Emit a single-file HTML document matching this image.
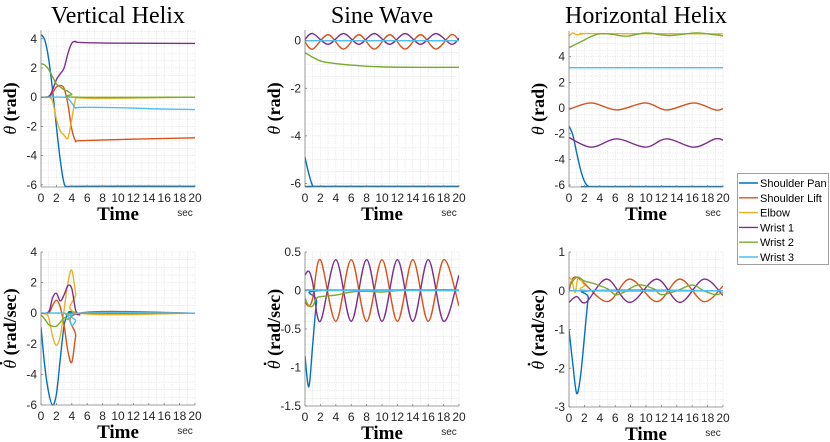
<!DOCTYPE html>
<html><head><meta charset="utf-8">
<style>
html,body{margin:0;padding:0;background:#fff;}
svg{display:block;font-family:"Liberation Sans",sans-serif;}
.ttl{font-family:"Liberation Serif","DejaVu Serif","Noto Serif CJK SC",serif;font-size:24px;fill:#000;}
.xl{font-family:"Liberation Serif",serif;font-size:19px;font-weight:bold;fill:#000;}
.yl{font-family:"Liberation Serif",serif;font-size:18px;font-weight:bold;fill:#000;}
.tk{font-size:12px;fill:#262626;}
.sec{font-size:10px;fill:#262626;}
.lg{font-size:11px;fill:#000;}
</style></head>
<body>
<svg id="fig" width="830" height="442" viewBox="0 0 830 442" xmlns="http://www.w3.org/2000/svg">
<text class="ttl" x="118" y="23" text-anchor="middle">Vertical Helix</text>
<text class="ttl" x="382" y="23" text-anchor="middle">Sine Wave</text>
<text class="ttl" x="646" y="23" text-anchor="middle">Horizontal Helix</text>
<g id="legend">
<rect x="737.5" y="173.5" width="91" height="91" fill="#fff" stroke="#a0a0a0" stroke-width="1"/>
</g>
</svg>
<script>
const seriesNames = ["Shoulder Pan","Shoulder Lift","Elbow","Wrist 1","Wrist 2","Wrist 3"];
const seriesColors = ["#0072BD","#D95319","#EDB120","#7E2F8E","#77AC30","#4DBEEE"];

// Vertical helix - theta
const vhPosPanT=[0,0.5,1,1.5,2,2.5,3,3.5,5,20], vhPosPanV=[4.3,3.9,2.6,0.5,-2,-4.3,-5.9,-6.12,-6.1,-6.1];
const vhPosLiftT=[0,1,1.5,2,2.5,3,3.5,4,4.5,5,10,20], vhPosLiftV=[0,0,0.3,0.7,0.8,0.6,-0.5,-2.2,-3.0,-2.98,-2.9,-2.78];
const vhPosElbowT=[0,1,1.5,2,2.5,3,3.5,4,4.5,5,8,20], vhPosElbowV=[0,0,-0.3,-1.5,-2.3,-2.6,-2.8,-1.5,-0.1,-0.05,-0.08,0];
const vhPosW1T=[0,1,1.5,2,2.5,3,3.5,4,4.5,5,10,20], vhPosW1V=[0,0.05,0.5,1.2,1.6,2.0,3.0,3.7,3.82,3.75,3.7,3.68];
const vhPosW2T=[0,0.5,1,1.5,2,2.5,3,3.5,4,4.5,20], vhPosW2V=[2.3,2.2,1.9,1.4,0.9,0.7,0.5,0.4,0.2,0,0];
const vhPosW3T=[0,3,3.5,4,4.5,5,10,15,20], vhPosW3V=[0,0,-0.1,-0.4,-0.75,-0.7,-0.72,-0.8,-0.85];
// Vertical helix - theta dot
const vhVelPanT=[0,0.5,1,1.5,2,2.5,3,3.5,4,5,20], vhVelPanV=[-0.9,-3.5,-5.2,-6.0,-5.3,-3.0,-0.8,0,0.1,0,0];
const vhVelLiftT=[0,1,1.5,2,2.5,3,3.5,4,4.5,5,20], vhVelLiftV=[0,0,0.5,0.85,0.4,-0.8,-2.5,-3.2,-1.5,0,0];
const vhVelElbowT=[0,0.5,1,1.5,2,2.5,3,3.5,4,4.5,5,20], vhVelElbowV=[0,0,-0.3,-1.5,-2.1,-1.5,0.2,2.0,2.8,1.3,0,0];
const vhVelW1T=[0,1,1.5,2,2.5,3,3.5,4,4.5,5,6,20], vhVelW1V=[0,0.1,1.0,1.3,0.8,1.2,1.8,1.6,0.2,-0.1,0,0];
const vhVelW2T=[0,0.5,1,1.5,2,2.5,3,3.5,4,4.5,20], vhVelW2V=[-0.1,-0.4,-0.75,-0.85,-0.85,-0.6,-0.3,-0.4,-0.2,0,0];
const vhVelW3T=[0,3,3.5,4,4.5,5,20], vhVelW3V=[0,0,-0.2,-0.8,-0.5,0,0];
// Sine wave - theta
const swPosPanT=[0,0.5,1,1.5,20], swPosPanV=[-4.9,-5.6,-6.1,-6.12,-6.12];
const swPosLiftT=[0,1,3,5,7,9,11,13,15,17,19,20], swPosLiftV=[-0.05,-0.35,0.25,-0.35,0.25,-0.35,0.25,-0.35,0.25,-0.35,0.25,0.0];
const swPosElbowT=[0,20], swPosElbowV=[0,0];
const swPosW1T=[0,1,3,5,7,9,11,13,15,17,19,20], swPosW1V=[0.05,0.3,-0.15,0.3,-0.15,0.3,-0.15,0.3,-0.15,0.3,-0.15,0.1];
const swPosW2T=[0,0.5,1,2,3,5,7,10,15,20], swPosW2V=[-0.5,-0.6,-0.7,-0.85,-0.92,-1.0,-1.05,-1.1,-1.12,-1.12];
const swPosW3T=[0,20], swPosW3V=[0,0];
// Sine wave - theta dot
const swVelPanT=[0,0.5,1,1.5,2,20], swVelPanV=[-0.85,-1.25,-0.7,-0.15,0,0];
const swVelLiftT=[0,0.5,1,2,4,6,8,10,12,14,16,18,20], swVelLiftV=[-0.15,-0.2,-0.1,0.4,-0.4,0.4,-0.4,0.4,-0.4,0.4,-0.4,0.4,-0.2];
const swVelElbowT=[0,20], swVelElbowV=[0.01,0.01];
const swVelW1T=[0,0.5,1,2,4,6,8,10,12,14,16,18,20], swVelW1V=[0.2,0.25,0.1,-0.4,0.4,-0.4,0.4,-0.4,0.4,-0.4,0.4,-0.4,0.2];
const swVelW2T=[0,0.5,1,1.5,2,4,6,8,10,12,14,16,18,20], swVelW2V=[-0.1,-0.2,-0.2,-0.1,-0.08,-0.06,-0.02,-0.01,-0.02,0,0.01,0,0.01,0];
const swVelW3T=[0,20], swVelW3V=[0,0];
// Horizontal helix - theta
const hhPosPanT=[0,0.5,1,1.5,2,2.5,3,20], hhPosPanV=[-1.4,-2.1,-3.5,-4.8,-5.7,-6.1,-6.12,-6.12];
const hhPosLiftT=[0,2.9,6.2,9.9,12.7,16.2,19,20], hhPosLiftV=[-0.1,0.4,-0.15,0.4,-0.15,0.4,-0.15,-0.05];
const hhPosElbowT=[0,0.5,1,1.5,2,3,20], hhPosElbowV=[5.6,5.85,5.7,5.75,5.8,5.8,5.78];
const hhPosW1T=[0,2.9,6.2,9.9,12.7,16.2,19,20], hhPosW1V=[-2.3,-3.05,-2.4,-3.05,-2.4,-3.05,-2.4,-2.5];
const hhPosW2T=[0,1,2,3,4,5.5,7.5,10,13,16.5,19,20], hhPosW2V=[4.7,5.0,5.3,5.6,5.78,5.75,5.6,5.85,5.65,5.85,5.7,5.62];
const hhPosW3T=[0,20], hhPosW3V=[3.14,3.14];
// Horizontal helix - theta dot
const hhVelPanT=[0,0.5,1,1.5,2,2.5,3,20], hhVelPanV=[-1,-1.9,-2.65,-2.2,-1.2,-0.2,0,0];
const hhVelLiftT=[0,1,4.9,7.9,11.4,14.4,17.5,20], hhVelLiftV=[0,0.35,-0.28,0.3,-0.28,0.3,-0.28,0.12];
const hhVelElbowT=[0,0.4,0.8,1.2,2,3,20], hhVelElbowV=[0.35,0.25,-0.05,0.35,0.15,0,0];
const hhVelW1T=[0,1,2.2,4.9,7.9,11.4,14.4,17.5,20], hhVelW1V=[-0.3,-0.15,-0.3,0.3,-0.3,0.3,-0.3,0.3,-0.12];
const hhVelW2T=[0,1,2,3,5,6,7,9,11,12,14,16,17.5,19,20], hhVelW2V=[0.1,0.35,0.25,0.2,0.05,-0.1,-0.05,0.15,0.05,-0.1,0,0.15,0,-0.1,-0.05];
const hhVelW3T=[0,20], hhVelW3V=[0,0];

const xTicks=[0,2,4,6,8,10,12,14,16,18,20];
const yTicksA=[-6,-4,-2,0,2,4];
const yTicksC=[-6,-4,-2,0];
const yTicksD=[-1.5,-1,-0.5,0,0.5];
const yTicksF=[-3,-2,-1,0,1];

const NS="http://www.w3.org/2000/svg";
const svg=document.getElementById('fig');
function mk(tag,attrs,parent){const e=document.createElementNS(NS,tag);for(const k in attrs)e.setAttribute(k,attrs[k]);(parent||svg).appendChild(e);return e;}

function crPath(pts){
  let d="M"+pts[0][0].toFixed(2)+","+pts[0][1].toFixed(2);
  for(let i=0;i<pts.length-1;i++){
    const p0=pts[i-1]||pts[i],p1=pts[i],p2=pts[i+1],p3=pts[i+2]||pts[i+1];
    const c1x=p1[0]+(p2[0]-p0[0])/6,c1y=p1[1]+(p2[1]-p0[1])/6;
    const c2x=p2[0]-(p3[0]-p1[0])/6,c2y=p2[1]-(p3[1]-p1[1])/6;
    d+="C"+c1x.toFixed(2)+","+c1y.toFixed(2)+" "+c2x.toFixed(2)+","+c2y.toFixed(2)+" "+p2[0].toFixed(2)+","+p2[1].toFixed(2);
  }
  return d;
}

const panels=[
 {id:"vh-pos",x0:41,x1:195,y0:30,y1:187,ymin:-6.15,ymax:4.6,yt:yTicksA,minor:0.5,dot:false,unit:" (rad)",series:[[vhPosPanT,vhPosPanV],[vhPosLiftT,vhPosLiftV],[vhPosElbowT,vhPosElbowV],[vhPosW1T,vhPosW1V],[vhPosW2T,vhPosW2V],[vhPosW3T,vhPosW3V]]},
 {id:"vh-vel",x0:41,x1:195,y0:252,y1:405,ymin:-6,ymax:4,yt:yTicksA,minor:0.5,dot:true,unit:" (rad/sec)",series:[[vhVelPanT,vhVelPanV],[vhVelLiftT,vhVelLiftV],[vhVelElbowT,vhVelElbowV],[vhVelW1T,vhVelW1V],[vhVelW2T,vhVelW2V],[vhVelW3T,vhVelW3V]]},
 {id:"sw-pos",x0:305,x1:459,y0:30,y1:187,ymin:-6.15,ymax:0.45,yt:yTicksC,minor:0.5,dot:false,unit:" (rad)",series:[[swPosPanT,swPosPanV],[swPosLiftT,swPosLiftV],[swPosElbowT,swPosElbowV],[swPosW1T,swPosW1V],[swPosW2T,swPosW2V],[swPosW3T,swPosW3V]]},
 {id:"sw-vel",x0:305,x1:459,y0:252,y1:406,ymin:-1.5,ymax:0.5,yt:yTicksD,minor:0.1,dot:true,unit:" (rad/sec)",series:[[swVelPanT,swVelPanV],[swVelLiftT,swVelLiftV],[swVelElbowT,swVelElbowV],[swVelW1T,swVelW1V],[swVelW2T,swVelW2V],[swVelW3T,swVelW3V]]},
 {id:"hh-pos",x0:569,x1:723,y0:31,y1:187,ymin:-6.15,ymax:6.0,yt:yTicksA,minor:0.5,dot:false,unit:" (rad)",series:[[hhPosPanT,hhPosPanV],[hhPosLiftT,hhPosLiftV],[hhPosElbowT,hhPosElbowV],[hhPosW1T,hhPosW1V],[hhPosW2T,hhPosW2V],[hhPosW3T,hhPosW3V]]},
 {id:"hh-vel",x0:569,x1:723,y0:252,y1:407,ymin:-3,ymax:1,yt:yTicksF,minor:0.2,dot:true,unit:" (rad/sec)",series:[[hhVelPanT,hhVelPanV],[hhVelLiftT,hhVelLiftV],[hhVelElbowT,hhVelElbowV],[hhVelW1T,hhVelW1V],[hhVelW2T,hhVelW2V],[hhVelW3T,hhVelW3V]]}
];

panels.forEach(p=>{
  const sx=t=>p.x0+(t/20)*(p.x1-p.x0);
  const sy=v=>p.y1-(v-p.ymin)/(p.ymax-p.ymin)*(p.y1-p.y0);
  const g=mk('g',{});
  
  
  const grid=mk('g',{stroke:"#dcdcdc","stroke-width":"0.6","stroke-dasharray":"1.2,1.2"},g);
  
  
  for(let t=1;t<=20;t++){mk('line',{x1:sx(t),x2:sx(t),y1:p.y0,y2:p.y1},grid);}
  const n0=Math.ceil(p.ymin/p.minor-1e-6),n1=Math.floor(p.ymax/p.minor+1e-6);
  for(let k=n0;k<=n1;k++){const y=sy(k*p.minor);mk('line',{x1:p.x0,x2:p.x1,y1:y,y2:y},grid);}
  const clipId='clip-'+p.id;
  const cp=mk('clipPath',{id:clipId},g);mk('rect',{x:p.x0,y:p.y0-1,width:p.x1-p.x0,height:p.y1-p.y0+2},cp);
  const sg=mk('g',{"clip-path":"url(#"+clipId+")"},g);
  p.series.forEach((s,i)=>{
    const pts=s[0].map((t,j)=>[sx(t),sy(s[1][j])]);
    const path=mk('path',{d:crPath(pts),fill:"none",stroke:seriesColors[i],"stroke-width":"1.4","stroke-linejoin":"round"},sg);
    
    
  });
  mk('line',{x1:p.x0,x2:p.x0,y1:p.y0,y2:p.y1,stroke:"#808080","stroke-width":"0.8"},g);
  mk('line',{x1:p.x0,x2:p.x1,y1:p.y1,y2:p.y1,stroke:"#808080","stroke-width":"0.8"},g);
  xTicks.forEach(t=>{
    mk('line',{x1:sx(t),x2:sx(t),y1:p.y1,y2:p.y1-2,stroke:"#808080","stroke-width":"0.8"},g);
    const tx=mk('text',{x:sx(t),y:p.y1+15,"text-anchor":"middle",class:"tk"},g);tx.textContent=t;
    
    
  });
  p.yt.forEach(v=>{
    mk('line',{x1:p.x0,x2:p.x0+2,y1:sy(v),y2:sy(v),stroke:"#808080","stroke-width":"0.8"},g);
    const ty=mk('text',{x:p.x0-4,y:sy(v)+4,"text-anchor":"end",class:"tk"},g);ty.textContent=v;
    
    
  });
  const xl=mk('text',{x:(p.x0+p.x1)/2,y:p.y1+33,"text-anchor":"middle",class:"xl"},g);xl.textContent="Time";
  
  
  const sc=mk('text',{x:p.x1-10,y:p.y1+29,"text-anchor":"middle",class:"sec"},g);sc.textContent="sec";
  
  
  const cy=(p.y0+p.y1)/2, cx=p.x0-25;
  const tg=mk('g',{transform:"rotate(-90 "+cx+" "+cy+")"},g);
  const yl=mk('text',{x:cx,y:cy,"text-anchor":"middle",class:"yl"},tg);
  
  
  const th=mk('tspan',{"font-style":"italic","font-weight":"normal"},yl);th.textContent="θ";
  const u=mk('tspan',{},yl);u.textContent=p.unit;
  if(p.dot){
    let px=cx-40;
    try{const a=yl.getStartPositionOfChar(0),b=yl.getEndPositionOfChar(0);px=(a.x+b.x)/2+1;}catch(e){}
    const dt=mk('circle',{cx:px,cy:cy-15,r:1.3,fill:"#000"},tg);
    
    
  }
});

const lg=document.getElementById('legend');
seriesNames.forEach((nm,i)=>{
  const y=183+i*14.8;
  const ln=mk('line',{x1:739,x2:758,y1:y,y2:y,stroke:seriesColors[i],"stroke-width":"1.4"},lg);
  
  
  const tx=mk('text',{x:760,y:y+4,class:"lg"},lg);tx.textContent=nm;
  
  
});
</script>
</body></html>
